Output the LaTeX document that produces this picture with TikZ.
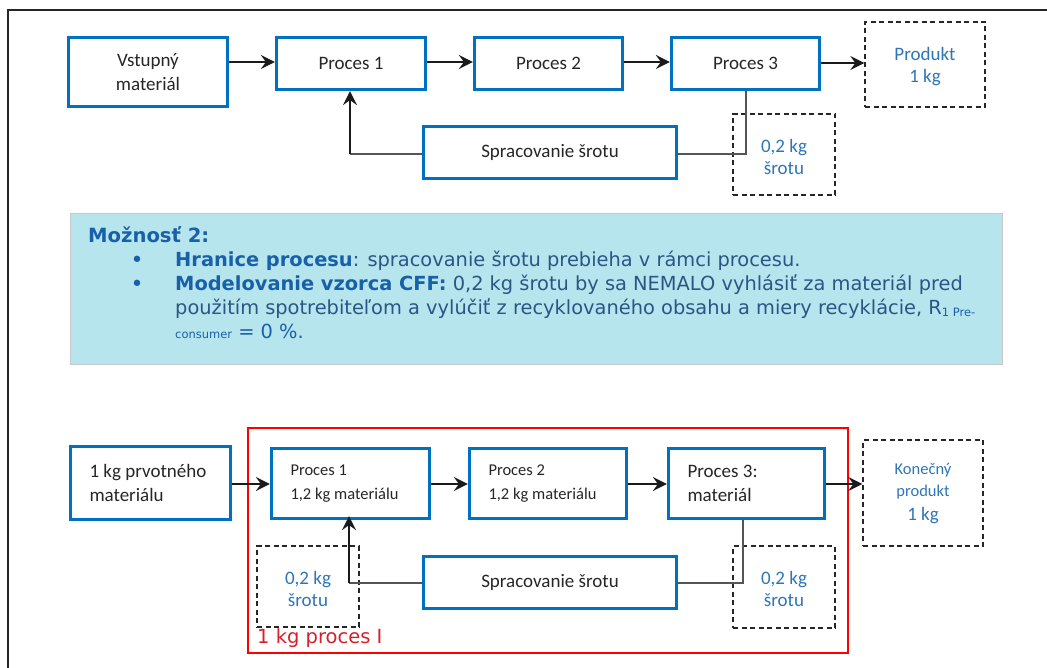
\documentclass[tikz,border=0pt]{standalone}
\usepackage{fontspec}
\setmainfont{Carlito}
\newfontfamily\verd{DejaVu Sans}
\usetikzlibrary{arrows.meta,calc}

\definecolor{procblue}{RGB}{0,112,192}
\definecolor{labelblue}{RGB}{46,117,182}
\definecolor{framegray}{RGB}{38,38,38}
\definecolor{arrowblack}{RGB}{26,26,26}
\definecolor{linkgray}{RGB}{85,85,85}
\definecolor{notefill}{RGB}{183,229,237}
\definecolor{noteedge}{RGB}{200,200,200}
\definecolor{headblue}{RGB}{24,96,168}
\definecolor{bodyblue}{RGB}{42,86,134}
\definecolor{boundred}{RGB}{255,0,0}
\definecolor{labelred}{RGB}{212,32,42}

\newcommand\fs[2]{\fontsize{#1}{#2}\selectfont}
% lower a centred block of lines without changing its reported size
\newcommand\lowr[2]{\raisebox{-#1}[\height][\depth]{\begin{tabular}{@{}c@{}}#2\end{tabular}}}

\tikzset{
  procbox/.style={draw=procblue, line width=3.2pt, fill=white, inner sep=0pt,
    align=flush center, font=\fs{19}{24}, text=black!85},
  lprocbox/.style={procbox, align=flush left, inner xsep=19pt},
  dashbox/.style={draw=black!85, line width=1.3pt, dash pattern=on 5pt off 3.5pt,
    inner sep=0pt, align=flush center, font=\fs{19}{22}, text=labelblue},
  flow/.style={draw=arrowblack, line width=2.1pt,
    -{Stealth[length=14pt,width=14pt,inset=5pt]}},
  riser/.style={draw=arrowblack, line width=2.1pt,
    -{Stealth[length=14pt,width=14pt,inset=5pt]}},
  link/.style={draw=linkgray, line width=1.2pt},
  notetext/.style={anchor=base west, inner sep=0pt, font=\verd\fs{19.4}{22}, text=bodyblue},
  bulletmark/.style={anchor=base, inner sep=0pt, font=\verd\fs{22}{22}, text=headblue},
}

\begin{document}
\begin{tikzpicture}[x=1pt,y=-1pt]
\useasboundingbox (0,0) rectangle (1047,668);

% outer frame (top and left edges)
\draw[framegray, line width=1.5pt] (8,668) -- (8,10) -- (1047,10);

% ---------- upper flow: scrap handled outside the process chain ----------
\node[procbox, minimum width=159, minimum height=69] (vst) at (148,72) {Vstupný\\materiál};
\node[procbox, minimum width=149, minimum height=52] (p1) at (351,63.5) {Proces 1};
\node[procbox, minimum width=148, minimum height=52] (p2) at (548.5,63.5) {Proces 2};
\node[procbox, minimum width=148, minimum height=52] (p3) at (745.5,63.5) {Proces 3};
\node[procbox, minimum width=253, minimum height=52] (spr) at (550,152.5) {Spracovanie šrotu};
\node[dashbox, minimum width=120, minimum height=85] (prod) at (925,64.5) {\lowr{3pt}{Produkt\\1 kg}};
\node[dashbox, minimum width=102, minimum height=81] (scrT) at (784,154.5) {\lowr{5pt}{0,2 kg\\šrotu}};

\draw[flow] (vst.east |- 0,62) -- (p1.west |- 0,62);
\draw[flow] (p1.east |- 0,62) -- (p2.west |- 0,62);
\draw[flow] (p2.east |- 0,62) -- (p3.west |- 0,62);
\draw[flow] (p3.east |- 0,63) -- (prod.west |- 0,63);

\coordinate (tdrop) at (746,154);
\draw[link] (p3.south -| tdrop) -- (tdrop) -- (spr.east |- tdrop);
\coordinate (tturn) at (350,154);
\draw[link] (spr.west |- tturn) -- (tturn);
\draw[riser] (tturn) -- (p1.south -| tturn);

% ---------- note panel ----------
\node[draw=noteedge, line width=0.8pt, fill=notefill, minimum width=932, minimum height=151,
      inner sep=0pt] (note) at (536,288.5) {};
\node[notetext, font=\verd\bfseries\fs{19.6}{22}, text=headblue] (head) at (88,243) {Možnosť 2:};
\node[bulletmark] (b1) at (137,268) {•};
\node[bulletmark] (b2) at (137,292) {•};
\node[notetext] (n1) at (175,267)
  {{\bfseries\color{headblue}Hranice procesu}: spracovanie šrotu prebieha v rámci procesu.};
\node[notetext] (n2) at (175,291)
  {{\bfseries\color{headblue}Modelovanie vzorca CFF:} 0,2 kg šrotu by sa NEMALO vyhlásiť za materiál pred};
\node[notetext] (n3) at (175,315)
  {použitím spotrebiteľom a vylúčiť z recyklovaného obsahu a miery recyklácie, R\raisebox{-2pt}{\color{headblue}\fs{11.5}{13}1 Pre-}};
\node[notetext] (n4) at (175,338)
  {{\color{headblue}\fs{11.5}{13}consumer} {\color{headblue}= 0 \%.}};

% ---------- lower flow: scrap handled within the process boundary ----------
\draw[boundred, line width=2pt] (248,428) rectangle (848,653);
\node[anchor=base west, inner sep=0pt, font=\verd\fs{19.5}{22}, text=labelred] (blab) at (257,643) {1 kg proces I};

\node[lprocbox, minimum width=160, minimum height=73, text width=122, inner xsep=19pt] (prim) at (150.5,483)
  {\fs{19}{25}1 kg prvotného\\materiálu};
\node[lprocbox, minimum width=158, minimum height=70, text width=120] (q1) at (350.5,483.5)
  {\fs{16.5}{22}Proces 1\\1,2 kg materiálu};
\node[lprocbox, minimum width=157, minimum height=70, text width=119] (q2) at (548,483.5)
  {\fs{16.5}{22}Proces 2\\1,2 kg materiálu};
\node[lprocbox, minimum width=156, minimum height=70, text width=118] (q3) at (746.5,483.5)
  {\fs{19}{25}Proces 3:\\materiál};
\node[procbox, minimum width=253, minimum height=52] (spr2) at (550,582.5) {Spracovanie šrotu};
\node[dashbox, minimum width=120, minimum height=106] (fin) at (923,493)
  {\fs{16.5}{20}Konečný\\\fs{16.5}{20}produkt\\[2pt]\fs{19}{22}1 kg};
\node[dashbox, minimum width=102, minimum height=81] (scrL) at (308,586.5) {\lowr{5pt}{0,2 kg\\šrotu}};
\node[dashbox, minimum width=102, minimum height=82] (scrR) at (784,587) {\lowr{4pt}{0,2 kg\\šrotu}};

\draw[flow] (prim.east |- 0,484) -- (q1.west |- 0,484);
\draw[flow] (q1.east |- 0,484) -- (q2.west |- 0,484);
\draw[flow] (q2.east |- 0,484) -- (q3.west |- 0,484);
\draw[flow] (q3.east |- 0,484) -- (fin.west |- 0,484);

\coordinate (bdrop) at (743,583);
\draw[link] (q3.south -| bdrop) -- (bdrop) -- (spr2.east |- bdrop);
\coordinate (bturn) at (349,583);
\draw[link] (spr2.west |- bturn) -- (bturn);
\draw[riser, shorten >=-4pt] (bturn) -- (q1.south -| bturn);
\end{tikzpicture}
\end{document}
